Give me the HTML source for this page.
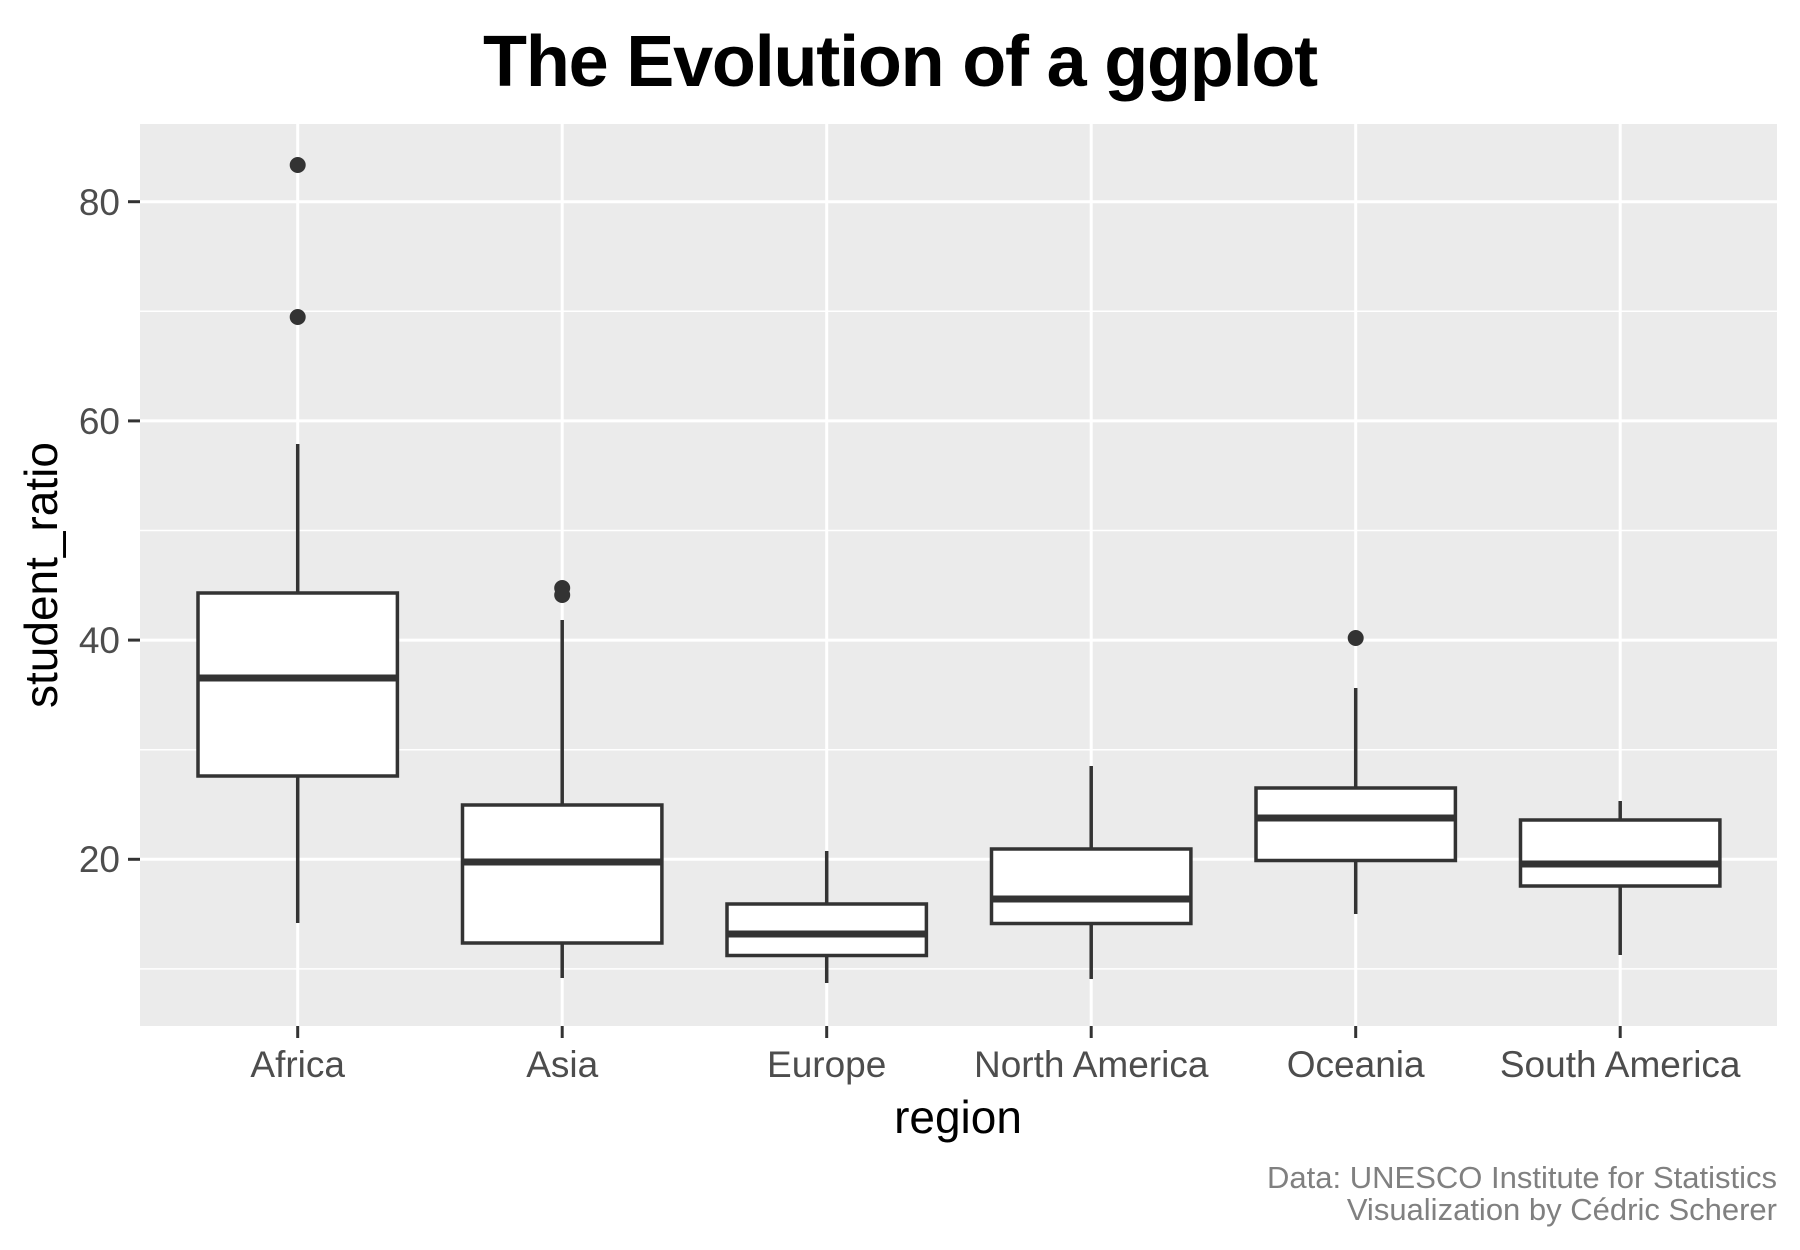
<!DOCTYPE html>
<html><head><meta charset="utf-8"><style>
html,body{margin:0;padding:0;background:#fff;}
svg{display:block;}
</style></head><body>
<svg width="1800" height="1250" viewBox="0 0 1800 1250" xmlns="http://www.w3.org/2000/svg">
<rect width="1800" height="1250" fill="#fff"/>
<text x="900" y="86" text-anchor="middle" font-family="Liberation Sans, sans-serif" font-weight="bold" font-size="72" letter-spacing="-1.2" fill="#000">The Evolution of a ggplot</text>
<rect x="140" y="124" width="1637" height="902" fill="#ebebeb"/>
<g stroke="#fff" stroke-width="1.5">
<line x1="140" x2="1777" y1="311.3" y2="311.3"/>
<line x1="140" x2="1777" y1="530.5" y2="530.5"/>
<line x1="140" x2="1777" y1="749.7" y2="749.7"/>
<line x1="140" x2="1777" y1="968.9" y2="968.9"/>
</g>
<g stroke="#fff" stroke-width="3">
<line x1="140" x2="1777" y1="201.7" y2="201.7"/>
<line x1="140" x2="1777" y1="420.9" y2="420.9"/>
<line x1="140" x2="1777" y1="640.1" y2="640.1"/>
<line x1="140" x2="1777" y1="859.3" y2="859.3"/>
<line x1="297.7" x2="297.7" y1="124" y2="1026"/>
<line x1="562.2" x2="562.2" y1="124" y2="1026"/>
<line x1="826.7" x2="826.7" y1="124" y2="1026"/>
<line x1="1091.2" x2="1091.2" y1="124" y2="1026"/>
<line x1="1355.7" x2="1355.7" y1="124" y2="1026"/>
<line x1="1620.2" x2="1620.2" y1="124" y2="1026"/>
</g>
<g stroke="#333" stroke-width="3">
<line x1="128" x2="140" y1="201.7" y2="201.7"/>
<line x1="128" x2="140" y1="420.9" y2="420.9"/>
<line x1="128" x2="140" y1="640.1" y2="640.1"/>
<line x1="128" x2="140" y1="859.3" y2="859.3"/>
<line x1="297.7" x2="297.7" y1="1026" y2="1038"/>
<line x1="562.2" x2="562.2" y1="1026" y2="1038"/>
<line x1="826.7" x2="826.7" y1="1026" y2="1038"/>
<line x1="1091.2" x2="1091.2" y1="1026" y2="1038"/>
<line x1="1355.7" x2="1355.7" y1="1026" y2="1038"/>
<line x1="1620.2" x2="1620.2" y1="1026" y2="1038"/>
</g>
<g font-family="Liberation Sans, sans-serif" font-size="37" fill="#4d4d4d" text-anchor="end">
<text x="120" y="215">80</text>
<text x="120" y="434">60</text>
<text x="120" y="653">40</text>
<text x="120" y="872">20</text>
</g>
<g font-family="Liberation Sans, sans-serif" font-size="37" fill="#4d4d4d" text-anchor="middle">
<text x="297.7" y="1077">Africa</text>
<text x="562.2" y="1077">Asia</text>
<text x="826.7" y="1077">Europe</text>
<text x="1091.2" y="1077">North America</text>
<text x="1355.7" y="1077">Oceania</text>
<text x="1620.2" y="1077">South America</text>
</g>
<text x="958" y="1133" text-anchor="middle" font-family="Liberation Sans, sans-serif" font-size="46" fill="#000">region</text>
<text transform="translate(57,575) rotate(-90)" text-anchor="middle" font-family="Liberation Sans, sans-serif" font-size="46" fill="#000">student_ratio</text>
<g font-family="Liberation Sans, sans-serif" font-size="31" fill="#808080" text-anchor="end">
<text x="1777" y="1188">Data: UNESCO Institute for Statistics</text>
<text x="1777" y="1220">Visualization by Cédric Scherer</text>
</g>
<g stroke="#333" stroke-width="3.5" fill="#fff" transform="translate(0,-2)">
<line x1="297.7" x2="297.7" y1="446" y2="925"/>
<rect x="198" y="595" width="199.4" height="183"/>
<line x1="198" x2="397.4" y1="680" y2="680" stroke-width="7"/>
<line x1="562.2" x2="562.2" y1="622" y2="980"/>
<rect x="462.5" y="807" width="199.4" height="138"/>
<line x1="462.5" x2="661.9" y1="864" y2="864" stroke-width="7"/>
<line x1="826.7" x2="826.7" y1="853" y2="985"/>
<rect x="727" y="906" width="199.4" height="51.5"/>
<line x1="727" x2="926.4" y1="936" y2="936" stroke-width="7"/>
<line x1="1091.2" x2="1091.2" y1="768" y2="981"/>
<rect x="991.5" y="851" width="199.4" height="74.5"/>
<line x1="991.5" x2="1190.9" y1="901" y2="901" stroke-width="7"/>
<line x1="1355.7" x2="1355.7" y1="690" y2="916"/>
<rect x="1256" y="790" width="199.4" height="72.5"/>
<line x1="1256" x2="1455.4" y1="820" y2="820" stroke-width="7"/>
<line x1="1620.2" x2="1620.2" y1="803" y2="957"/>
<rect x="1520.5" y="822" width="199.4" height="66"/>
<line x1="1520.5" x2="1719.9" y1="866" y2="866" stroke-width="7"/>
</g>
<g fill="#333">
<circle cx="297.7" cy="165" r="8"/>
<circle cx="297.7" cy="317" r="8"/>
<circle cx="562.2" cy="588" r="8"/>
<circle cx="562.2" cy="595" r="8"/>
<circle cx="1355.7" cy="638" r="8"/>
</g>
</svg>
</body></html>
